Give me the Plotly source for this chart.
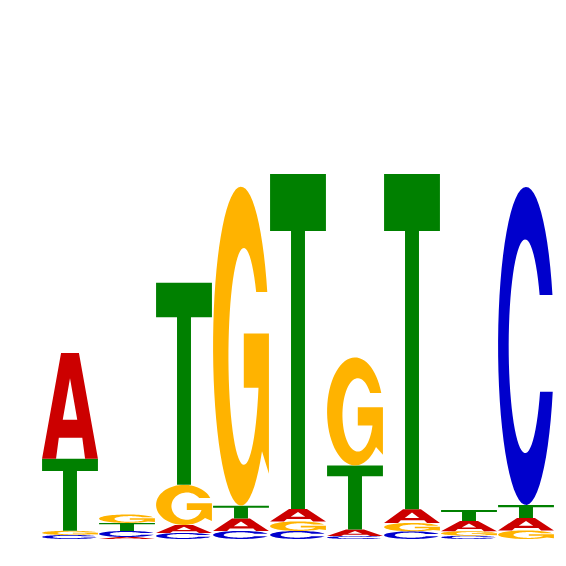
import numpy as np
import plotly.graph_objects as go

# information content (bits) per letter at each of the 9 positions
positions = [1, 2, 3, 4, 5, 6, 7, 8, 9]
a_bits = [0.579, 0.011, 0.044, 0.068, 0.068, 0.036, 0.074, 0.055, 0.068]
c_bits = [0.022, 0.033, 0.033, 0.044, 0.044, 0.016, 0.042, 0.018, 1.738]
g_bits = [0.023, 0.046, 0.219, 1.743, 0.052, 0.590, 0.046, 0.025, 0.047]
t_bits = [0.393, 0.044, 1.104, 0.070, 1.831, 0.350, 1.833, 0.060, 0.071]

colors = {"A": "#CC0000", "C": "#0000CC", "G": "#FFB300", "T": "#008000"}
letter_w = 0.98


def arc(cx, cy, rx, ry, a0, a1, n=60):
    t = np.linspace(a0, a1, n)
    return list(zip(cx + rx * np.cos(t), cy + ry * np.sin(t)))


# glyph outlines in a unit box (x 0..1, y 0..1)
glyphs = {
    "A": [
        [(0, 0), (0.25, 0), (0.3, 0.2), (0.72, 0.2), (0.77, 0), (1, 0), (0.66, 1), (0.34, 1)],
        [(0.37, 0.37), (0.5, 0.76), (0.63, 0.37)],
    ],
    "T": [
        [(0, 1), (1, 1), (1, 0.83), (0.625, 0.83), (0.625, 0), (0.375, 0), (0.375, 0.83), (0, 0.83)],
    ],
    "C": [
        arc(0.5, 0.5, 0.5, 0.5, np.arcsin(0.32), 2 * np.pi - np.arcsin(0.288))
        + arc(0.485, 0.499, 0.295, 0.336, 2 * np.pi - 0.4397, 0.4996),
    ],
    "G": [
        arc(0.5, 0.5, 0.5, 0.5, np.arcsin(0.34), 2 * np.pi - 0.72)
        + [(1.0, 0.1), (1.0, 0.54), (0.55, 0.54), (0.55, 0.37)]
        + arc(0.55, 0.468, 0.275, 0.34, 2 * np.pi - 0.292, 0.636),
    ],
}


def glyph_path(letter, xc, y0, h):
    parts = []
    for poly in glyphs[letter]:
        pts = [(xc - letter_w / 2 + u * letter_w, y0 + v * h) for u, v in poly]
        parts.append("M " + " L ".join(f"{x:.4f},{y:.5f}" for x, y in pts) + " Z")
    return " ".join(parts)


fig = go.Figure()
fig.add_trace(go.Scatter(x=positions, y=[0] * len(positions), mode="markers",
                         marker=dict(opacity=0), hoverinfo="skip", showlegend=False))

shapes = []
for i, pos in enumerate(positions):
    col = {"A": a_bits[i], "C": c_bits[i], "G": g_bits[i], "T": t_bits[i]}
    base = 0.0
    for letter, h in sorted(col.items(), key=lambda kv: kv[1]):
        shapes.append(dict(type="path", xref="x", yref="y", path=glyph_path(letter, pos, base, h),
                           fillcolor=colors[letter], fillrule="evenodd", line=dict(width=0)))
        base += h

# the page puts the figure 8px in from the top-left corner
px_per_bit = 183.0
x0 = 1 - 62 / 57
fig.update_layout(
    shapes=shapes,
    width=566, height=566, autosize=False,
    margin=dict(l=0, r=0, t=0, b=0),
    plot_bgcolor="white", paper_bgcolor="white",
    xaxis=dict(range=[x0, x0 + 566 / 57], visible=False),
    yaxis=dict(range=[-35 / px_per_bit, 531 / px_per_bit], visible=False),
)

fig.write_html("out.html")
